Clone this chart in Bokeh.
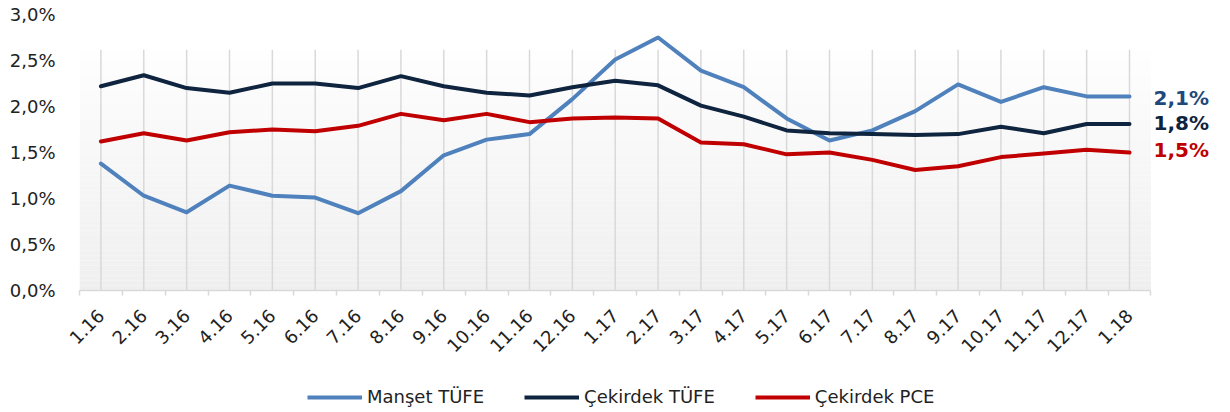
import math
from bokeh.plotting import figure
from bokeh.layouts import column
from bokeh.models import FixedTicker, Range1d, Legend, LegendItem
from bokeh.core.properties import value
from bokeh.embed import file_html
from bokeh.resources import INLINE

months = ["1.16", "2.16", "3.16", "4.16", "5.16", "6.16", "7.16", "8.16", "9.16",
          "10.16", "11.16", "12.16", "1.17", "2.17", "3.17", "4.17", "5.17", "6.17",
          "7.17", "8.17", "9.17", "10.17", "11.17", "12.17", "1.18"]
manset_tufe = [1.38, 1.03, 0.85, 1.14, 1.03, 1.01, 0.84, 1.08, 1.47, 1.64, 1.70, 2.08,
               2.51, 2.75, 2.39, 2.21, 1.87, 1.63, 1.74, 1.95, 2.24, 2.05, 2.21, 2.11, 2.11]
cekirdek_tufe = [2.22, 2.34, 2.20, 2.15, 2.25, 2.25, 2.20, 2.33, 2.22, 2.15, 2.12, 2.21,
                 2.28, 2.23, 2.01, 1.89, 1.74, 1.71, 1.70, 1.69, 1.70, 1.78, 1.71, 1.81, 1.81]
cekirdek_pce = [1.62, 1.71, 1.63, 1.72, 1.75, 1.73, 1.79, 1.92, 1.85, 1.92, 1.83, 1.87,
                1.88, 1.87, 1.61, 1.59, 1.48, 1.50, 1.42, 1.31, 1.35, 1.45, 1.49, 1.53, 1.50]
series_names = ["Manşet TÜFE", "Çekirdek TÜFE", "Çekirdek PCE"]
end_labels = ["2,1%", "1,8%", "1,5%"]
y_ticks = [0.0, 0.5, 1.0, 1.5, 2.0, 2.5, 3.0]
y_tick_labels = ["0,0%", "0,5%", "1,0%", "1,5%", "2,0%", "2,5%", "3,0%"]

line_colors = ["#4F81BD", "#0F243E", "#C00000"]
label_colors = ["#1F497D", "#0F243E", "#C00000"]
label_nudges = [2, -1, -3]
FONT = "DejaVu Sans"

n = len(months)
xs = list(range(n))
area_top = 2.616
series = [manset_tufe, cekirdek_tufe, cekirdek_pce]

p = figure(frame_width=1149, frame_height=276,
           x_range=Range1d(-0.5, 26.31), y_range=Range1d(0, 3.0),
           output_backend="svg", toolbar_location=None,
           min_border_left=79, min_border_right=0, min_border_top=14, min_border_bottom=0)
p.outline_line_color = None
p.background_fill_color = "white"
p.border_fill_color = "white"
p.grid.grid_line_color = None

# gradient plot-area background
bands = 48
bottoms, tops, cols = [], [], []
for k in range(bands):
    bottoms.append(area_top * k / bands)
    tops.append(area_top * (k + 1) / bands)
    t = (k + 0.5) / bands
    g = int(round(239 + (254 - 239) * t))
    cols.append("#%02x%02x%02x" % (g, g, g))
p.quad(left=-0.5, right=n - 0.5, bottom=bottoms, top=tops, fill_color=cols, line_color=None)

# vertical grid lines
p.segment(x0=xs, y0=[0] * n, x1=xs, y1=[area_top] * n, line_color="#d9d9d9", line_width=1.5)

for vals, c in zip(series, line_colors):
    p.line(xs, vals, line_color=c, line_width=4, line_join="round", line_cap="round")

for vals, txt, c, dy in zip(series, end_labels, label_colors, label_nudges):
    p.text(x=[n - 1], y=[vals[-1]], text=[txt], x_offset=24, y_offset=dy,
           text_font=value(FONT), text_font_size="20px", text_font_style="bold",
           text_color=c, text_baseline="middle")

# x axis
xa = p.xaxis[0]
xa.bounds = (-0.5, n - 0.5)
xa.ticker = FixedTicker(ticks=xs, minor_ticks=[i - 0.5 for i in range(n + 1)])
xa.major_label_overrides = {i: m for i, m in zip(xs, months)}
xa.major_tick_line_color = None
xa.minor_tick_line_color = "#d9d9d9"
xa.minor_tick_line_width = 1.5
xa.minor_tick_in = 0
xa.minor_tick_out = 5
xa.axis_line_color = "#d9d9d9"
xa.axis_line_width = 1.5
xa.major_label_orientation = math.pi / 4
xa.major_label_text_font = FONT
xa.major_label_text_font_size = "18px"
xa.major_label_text_color = "#222222"
xa.major_label_standoff = 16

ya = p.yaxis[0]
ya.ticker = FixedTicker(ticks=y_ticks)
ya.major_label_overrides = {t: l for t, l in zip(y_ticks, y_tick_labels)}
ya.axis_line_color = None
ya.major_tick_line_color = None
ya.minor_tick_line_color = None
ya.major_label_standoff = 18
ya.major_label_text_font = FONT
ya.major_label_text_font_size = "18px"
ya.major_label_text_color = "#222222"

# legend in its own strip below
lg = figure(width=1228, height=30, output_backend="svg", toolbar_location=None,
            min_border=0, x_range=Range1d(0, 1), y_range=Range1d(0, 1))
lg.axis.visible = False
lg.grid.grid_line_color = None
lg.outline_line_color = None
nan = float("nan")
dummies = [lg.line([nan], [nan], line_color=c, line_width=4) for c in line_colors]
legend = Legend(items=[LegendItem(label=nm, renderers=[r]) for nm, r in zip(series_names, dummies)],
                orientation="horizontal", location=(228, 4),
                glyph_width=55, glyph_height=20, label_standoff=5, spacing=40,
                label_text_font=FONT, label_text_font_size="18px", label_text_color="#222222",
                border_line_color=None, background_fill_alpha=0, padding=0, margin=0)
lg.add_layout(legend, "center")

layout = column(p, lg, spacing=20)
open("out.html", "w").write(file_html(layout, INLINE))
